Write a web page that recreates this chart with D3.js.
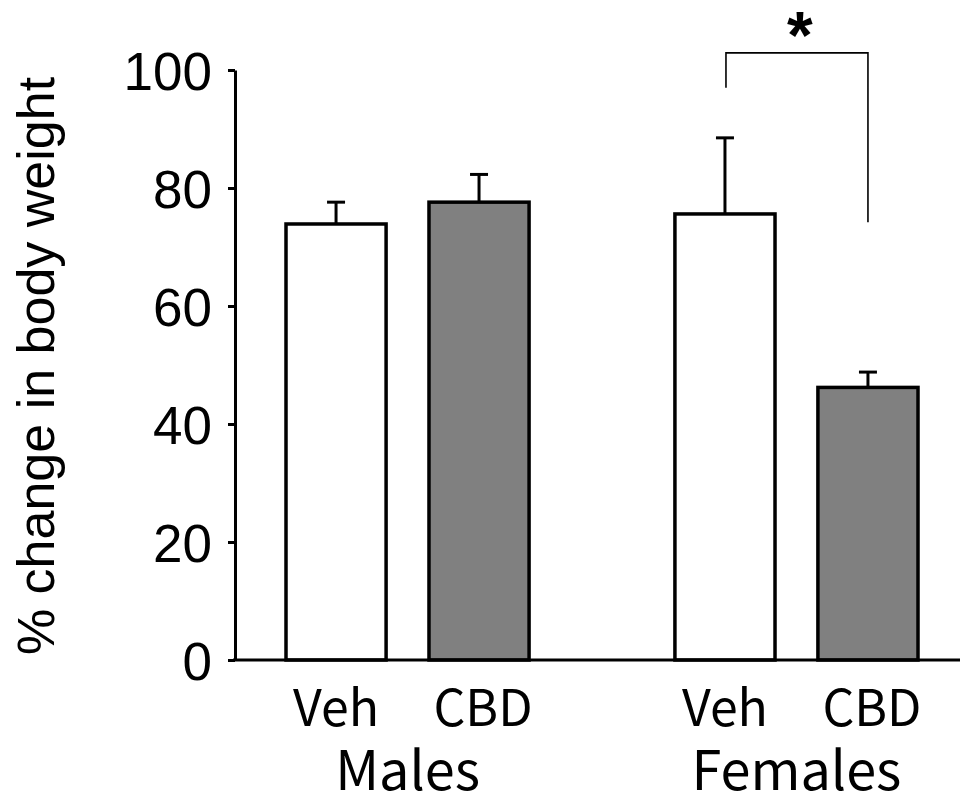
<!DOCTYPE html>
<html>
<head>
<meta charset="utf-8">
<script src="https://cdn.jsdelivr.net/npm/d3@7"></script>
<style>
  body { margin: 0; background: #fff; }
  text { font-family: "Liberation Sans", Arial, sans-serif; fill: #000; }
  text.cond, text.group { font-family: "Noto Sans CJK KR", "Noto Sans", sans-serif; }
</style>
</head>
<body>
<div class="chart"></div>
<script>
// groups and conditions
var groups = ["Males", "Females"];
var conditions = ["Veh", "CBD"];

// mean % change and SEM
var males = [73.9, 77.6];
var malesErr = [3.7, 4.7];
var females = [75.6, 46.2];
var femalesErr = [12.9, 2.6];

var yTicks = [0, 20, 40, 60, 80, 100];
var fills = { Veh: "#ffffff", CBD: "#808080" };

// significance bracket between female Veh and CBD
var bracketLeft = 97.0, bracketTop = 102.9, bracketRight = 74.2;

var width = 960, height = 804;

var svg = d3.select(".chart")
	.append("svg")
	.attr("width", width)
	.attr("height", height);

// scales
var y = d3.scaleLinear().domain([0, 100]).range([660, 70]);
var x0 = d3.scaleBand().domain(groups).range([286, 918]).paddingInner(0.375).paddingOuter(0);
var x1 = d3.scaleBand().domain(conditions).range([0, x0.bandwidth()]).paddingInner(0.30).paddingOuter(0);

// build rows for drawing
var rows = [];
conditions.forEach(function(c, i) {
	rows.push({ group: "Males", cond: c, value: males[i], err: malesErr[i] });
	rows.push({ group: "Females", cond: c, value: females[i], err: femalesErr[i] });
});

function cx(d) { return x0(d.group) + x1(d.cond) + x1.bandwidth() / 2; }

// error bars (top only) drawn first so the bar outline covers the stem base
var capW = 9;
rows.forEach(function(d) {
	svg.append("line")
		.attr("x1", cx(d)).attr("x2", cx(d))
		.attr("y1", y(d.value)).attr("y2", y(d.value + d.err))
		.attr("stroke", "#000").attr("stroke-width", 3);
	svg.append("line")
		.attr("x1", cx(d) - capW).attr("x2", cx(d) + capW)
		.attr("y1", y(d.value + d.err)).attr("y2", y(d.value + d.err))
		.attr("stroke", "#000").attr("stroke-width", 3);
});

// bars
svg.selectAll("rect.bar")
	.data(rows)
	.enter()
	.append("rect")
	.attr("class", "bar")
	.attr("x", function(d) { return x0(d.group) + x1(d.cond); })
	.attr("y", function(d) { return y(d.value); })
	.attr("width", x1.bandwidth())
	.attr("height", function(d) { return y(0) - y(d.value); })
	.attr("fill", function(d) { return fills[d.cond]; })
	.attr("stroke", "#000")
	.attr("stroke-width", 3.5);

// y axis
var yAxis = svg.append("g")
	.attr("transform", "translate(235,0)")
	.call(d3.axisLeft(y).tickValues(yTicks).tickSize(7).tickPadding(16).tickSizeOuter(0));
yAxis.select(".domain").attr("stroke-width", 3);
yAxis.selectAll(".tick line").attr("stroke-width", 3);
yAxis.selectAll(".tick text")
	.style("font-family", '"Liberation Sans", Arial, sans-serif')
	.style("font-size", "53px")
	.attr("dy", "0.36em");

// x axis line
svg.append("line")
	.attr("x1", 233).attr("x2", width)
	.attr("y1", y(0)).attr("y2", y(0))
	.attr("stroke", "#000").attr("stroke-width", 3);

// condition labels
svg.selectAll("text.cond")
	.data(rows)
	.enter()
	.append("text")
	.attr("class", "cond")
	.attr("x", function(d) { return cx(d) + (d.cond == "CBD" ? 4 : 0); })
	.attr("y", 726)
	.attr("text-anchor", "middle")
	.style("font-size", "50px")
	.text(function(d) { return d.cond; });

// group labels
svg.selectAll("text.group")
	.data(groups)
	.enter()
	.append("text")
	.attr("class", "group")
	.attr("x", function(d) { return x0(d) + x0.bandwidth() / 2; })
	.attr("y", 790)
	.attr("text-anchor", "middle")
	.style("font-size", "54px")
	.text(function(d) { return d; });

// y axis title
svg.append("text")
	.attr("transform", "translate(54,366) rotate(-90)")
	.attr("text-anchor", "middle")
	.style("font-size", "52px")
	.text("% change in body weight");

// significance bracket
var fVeh = { group: "Females", cond: "Veh" }, fCbd = { group: "Females", cond: "CBD" };
var bx1 = cx(fVeh) + 1, bx2 = cx(fCbd);
svg.append("path")
	.attr("d", d3.line()([[bx1, y(bracketLeft)], [bx1, y(bracketTop)], [bx2, y(bracketTop)], [bx2, y(bracketRight)]]))
	.attr("fill", "none")
	.attr("stroke", "#000")
	.attr("stroke-width", 1.6);

svg.append("text")
	.attr("x", (bx1 + bx2) / 2 + 3)
	.attr("y", 58)
	.attr("text-anchor", "middle")
	.style("font-size", "66px")
	.style("font-weight", "bold")
	.text("*");
</script>
</body>
</html>
